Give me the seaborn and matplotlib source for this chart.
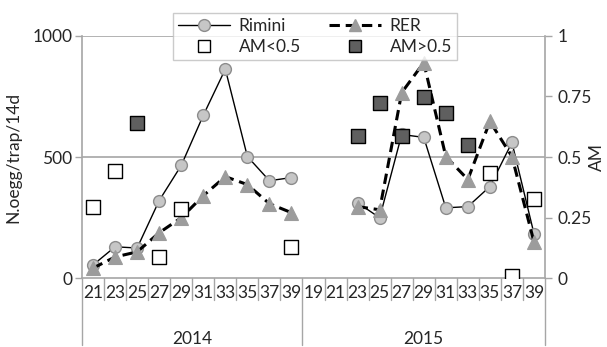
import numpy as np
import pandas as pd
import matplotlib
matplotlib.use("Agg")
import matplotlib.pyplot as plt
import seaborn as sns
from matplotlib.lines import Line2D

sns.set_theme(style="white")
plt.rcParams['font.family'] = ['Lato', 'DejaVu Sans']

# ---- data ----
years = ["2014"] * 10 + ["2015"] * 11
weeks = ["21", "23", "25", "27", "29", "31", "33", "35", "37", "39",
         "19", "21", "23", "25", "27", "29", "31", "33", "35", "37", "39"]
rimini = [54, 129, 124, 320, 465, 672, 863, 502, 402, 415,
          np.nan, np.nan, 311, 249, 593, 581, 290, 295, 378, 560, 183]
rer = [41, 87, 108, 187, 249, 340, 419, 386, 307, 270,
       np.nan, np.nan, 295, 282, 766, 890, 502, 407, 647, 502, 149]
am = [0.295, 0.444, 0.639, 0.087, 0.286, np.nan, np.nan, np.nan, np.nan, 0.129,
      np.nan, np.nan, 0.585, 0.722, 0.585, 0.747, 0.68, 0.548, 0.432, 0.008, 0.328]
year_labels = ["2014", "2015"]

df = pd.DataFrame({"year": years, "week": weeks, "Rimini": rimini,
                   "RER": rer, "AM": am})
df["pos"] = np.arange(len(df))

fig = plt.figure(figsize=(6.07, 3.47), dpi=100)
ax = fig.add_axes([0.1351, 0.1988, 0.8979 - 0.1351, 0.8963 - 0.1988])
ax2 = ax.twinx()

gray_axis = "#a6a6a6"
txt = "#262626"
fs = 12.5
dash = (0, (3.4, 1.9))

# lines per year (gaps between years)
for y in year_labels:
    sub = df[(df["year"] == y)].dropna(subset=["Rimini"])
    sns.lineplot(data=sub, x="pos", y="Rimini", ax=ax, color="black", lw=1.0,
                 marker="o", markersize=8.5, markerfacecolor="#c6c6c6",
                 markeredgecolor="#8c8c8c", markeredgewidth=1.0,
                 estimator=None, sort=False, zorder=3)
    sub = df[(df["year"] == y)].dropna(subset=["RER"])
    sns.lineplot(data=sub, x="pos", y="RER", ax=ax, color="black", lw=2.2,
                 dashes=False, linestyle=dash,
                 marker="^", markersize=9.5, markerfacecolor="#9c9c9c",
                 markeredgecolor="#9c9c9c", markeredgewidth=0.8,
                 estimator=None, sort=False, zorder=4)

lo = df[df["AM"] < 0.5]
hi = df[df["AM"] >= 0.5]
sns.scatterplot(data=lo, x="pos", y="AM", ax=ax2, marker="s", s=88,
                facecolor="white", edgecolor="black", linewidth=1.0, zorder=5)
sns.scatterplot(data=hi, x="pos", y="AM", ax=ax2, marker="s", s=88,
                facecolor="#5f5f5f", edgecolor="black", linewidth=1.0, zorder=5)

# axes setup
ax.set_xlim(-0.5, len(df) - 0.5)
ax.set_ylim(0, 1000)
ax2.set_ylim(0, 1)
ax.set_yticks([0, 500, 1000])
ax.set_yticklabels(["0", "500", "1000"], fontsize=fs, color=txt)
ax2.set_yticks([0, 0.25, 0.5, 0.75, 1])
ax2.set_yticklabels(["0", "0.25", "0.5", "0.75", "1"], fontsize=fs, color=txt)
ax.set_xticks(df["pos"])
ax.set_xticklabels(weeks, fontsize=fs, color=txt)
ax.tick_params(axis="x", length=0, pad=5)
ax.tick_params(axis="y", length=5, color=gray_axis, width=1, direction="out", pad=2, left=True)
ax2.tick_params(axis="y", length=5, color=gray_axis, width=1, direction="out", pad=4, right=True)

for a in (ax, ax2):
    for s in a.spines.values():
        s.set_visible(False)
ax.spines["left"].set_visible(True)
ax.spines["left"].set_color(gray_axis)
ax.spines["bottom"].set_visible(True)
ax.spines["bottom"].set_color(gray_axis)
ax2.spines["right"].set_visible(True)
ax2.spines["right"].set_color(gray_axis)
for sp in (ax.spines["left"], ax.spines["bottom"], ax2.spines["right"]):
    sp.set_linewidth(1.2)

ax.grid(False)
ax2.grid(False)
for v in (500, 1000):
    ax.axhline(v, color=gray_axis, lw=1.2, zorder=1)

ax.set_xlabel("")
ax.set_ylabel("N.oegg/trap/14d", fontsize=fs, color=txt, labelpad=8)
ax2.set_ylabel("")
fig.text(597 / 607, 1 - 157 / 347, "AM", rotation=90, ha="center", va="center",
         fontsize=fs, color=txt)

# category separators below axis
trans = ax.get_xaxis_transform()
n = len(df)
group_bounds = [-0.5, 9.5, n - 0.5]
for i in range(n + 1):
    xb = i - 0.5
    y1 = -0.277 if xb in group_bounds else -0.091
    ax.plot([xb, xb], [0, y1], transform=trans, color=gray_axis, lw=1.0,
            clip_on=False)
ax.text(4.5, -0.25, "2014", transform=trans, ha="center", va="center",
        fontsize=fs, color=txt)
ax.text(15.0, -0.25, "2015", transform=trans, ha="center", va="center",
        fontsize=fs, color=txt)

# legend
h_rim = Line2D([], [], color="black", lw=1.0, marker="o", markersize=8.5,
               markerfacecolor="#c6c6c6", markeredgecolor="#8c8c8c")
h_rer = Line2D([], [], color="black", lw=2.2, linestyle=dash,
               marker="^", markersize=9, markerfacecolor="#9c9c9c",
               markeredgecolor="#9c9c9c")
h_lo = Line2D([], [], lw=0, marker="s", markersize=8, markerfacecolor="white",
              markeredgecolor="black")
h_hi = Line2D([], [], lw=0, marker="s", markersize=8, markerfacecolor="#5f5f5f",
              markeredgecolor="black")
leg = fig.legend([h_rim, h_lo, h_rer, h_hi], ["Rimini", "AM<0.5", "RER", "AM>0.5"],
                 ncol=2, loc="upper center", bbox_to_anchor=(0.519, 0.963),
                 frameon=True, fancybox=False, edgecolor="#bfbfbf",
                 fontsize=fs, handlelength=3.0, columnspacing=1.6,
                 borderpad=0.3, labelspacing=0.3, handletextpad=0.5,
                 borderaxespad=0)
leg.get_frame().set_linewidth(1.0)
leg.set_zorder(10)

fig.savefig("out.png", dpi=100)
